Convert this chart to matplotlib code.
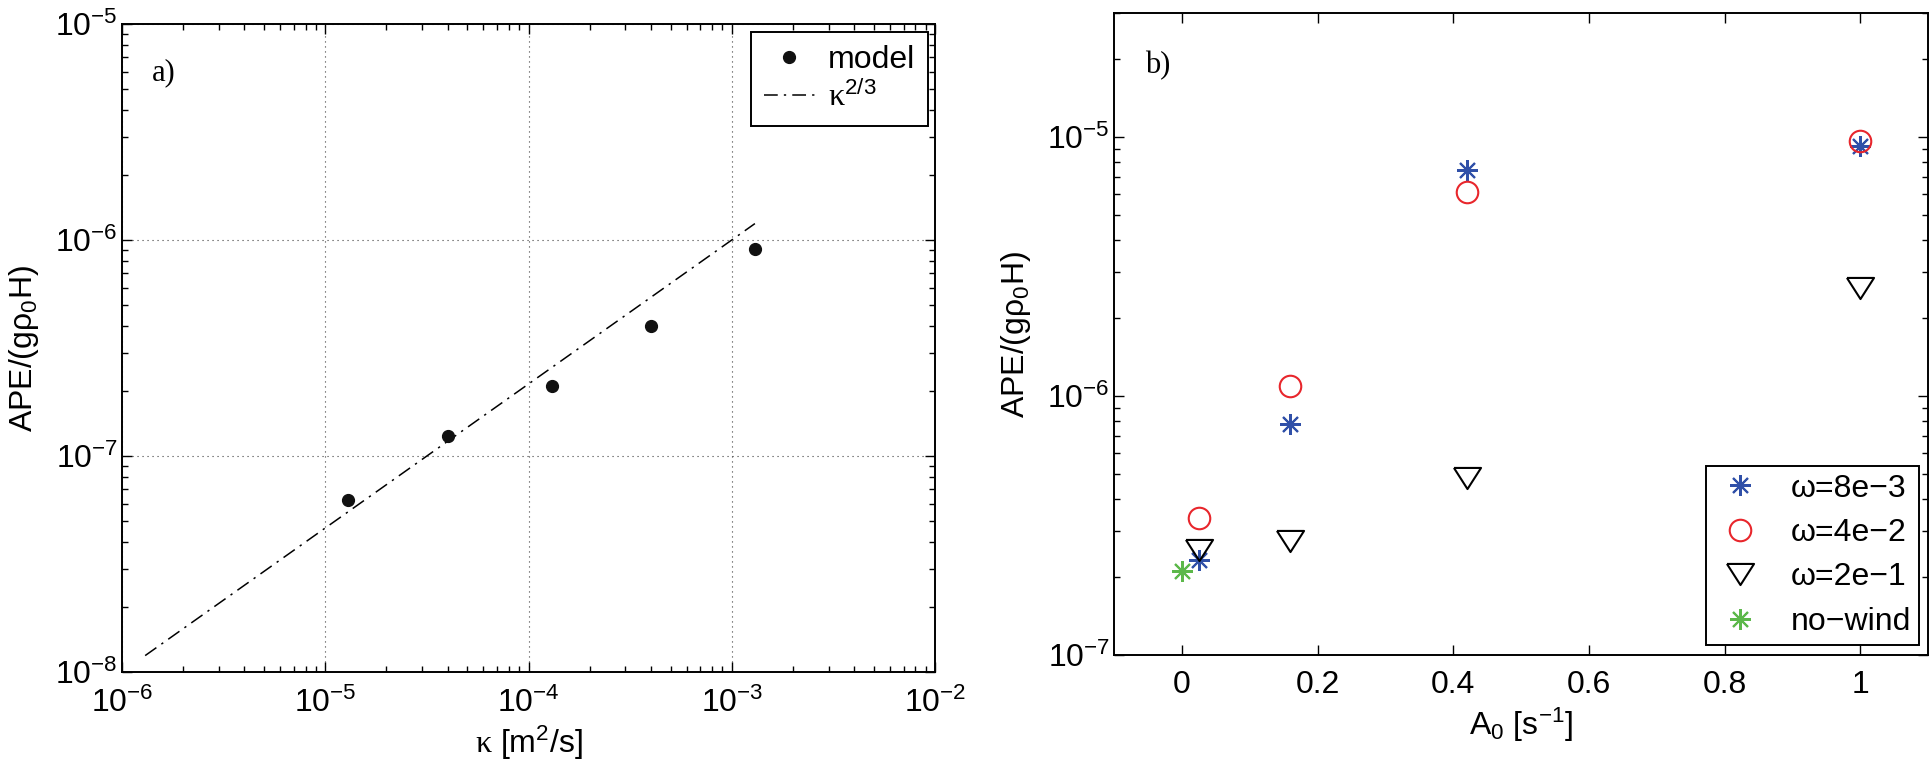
import matplotlib
matplotlib.use("Agg")
import matplotlib.pyplot as plt
import numpy as np
from matplotlib.ticker import LogLocator, NullFormatter, FixedLocator

plt.rcParams['font.family'] = ['Liberation Sans', 'DejaVu Sans']
plt.rcParams['mathtext.fontset'] = 'custom'
plt.rcParams['mathtext.rm'] = 'Liberation Serif'
plt.rcParams['mathtext.sf'] = 'Liberation Sans'
plt.rcParams['mathtext.it'] = 'Liberation Sans:italic'
plt.rcParams['mathtext.default'] = 'regular'

# ---------------- data ----------------
# panel a
kappa = [1.3e-5, 4.0e-5, 1.3e-4, 4.0e-4, 1.3e-3]
ape_model = [6.25e-8, 1.24e-7, 2.1e-7, 4.0e-7, 9.1e-7]
kappa_fit = [1.3e-6, 1.3e-3]
fit_coef = 1.0e-4  # APE ~ coef * kappa^(2/3)

# panel b
A0 = [0.025, 0.16, 0.42, 1.0]
ape_w8e3 = [2.32e-7, 7.8e-7, 7.45e-6, 9.2e-6]
ape_w4e2 = [3.38e-7, 1.096e-6, 6.1e-6, 9.6e-6]
ape_w2e1 = [2.55e-7, 2.75e-7, 4.8e-7, 2.6e-6]
A0_nowind = [0.0]
ape_nowind = [2.11e-7]
labels_b = ['ω=8e−3', 'ω=4e−2', 'ω=2e−1', 'no−wind']

# ---------------- figure ----------------
W, H = 1930, 762
fig = plt.figure(figsize=(W / 100, H / 100), dpi=100)

def frac(l, r, t, b):
    return [l / W, 1 - b / H, (r - l) / W, (b - t) / H]

axa = fig.add_axes(frac(122, 935, 24, 672))
axb = fig.add_axes(frac(1114, 1928, 13, 655))

TFS = 23
LFS = 23

def style(ax):
    for s in ax.spines.values():
        s.set_linewidth(1.4)
    ax.tick_params(which='both', direction='in', top=True, right=True,
                   labelsize=TFS, width=1.0)
    ax.tick_params(which='major', length=7)
    ax.tick_params(which='minor', length=4)
    ax.tick_params(axis='x', pad=11)
    ax.tick_params(axis='y', pad=3)

# ---- panel a ----
kf = np.array(kappa_fit)
axa.plot(kf, fit_coef * kf ** (2 / 3), color='black', lw=1.1,
         linestyle=(0, (9, 4, 1.5, 4)), label=r'$\mathrm{\kappa}^{\mathsf{2/3}}$')
axa.plot(kappa, ape_model, 'o', color='#111111', ms=8.5, label='model')
axa.set_xscale('log')
axa.set_yscale('log')
axa.set_xlim(1e-6, 1e-2)
axa.set_ylim(1e-8, 1e-5)
axa.xaxis.set_major_locator(LogLocator(base=10, numticks=10))
axa.yaxis.set_major_locator(LogLocator(base=10, numticks=10))
axa.xaxis.set_minor_locator(LogLocator(base=10, subs=np.arange(2, 10), numticks=20))
axa.yaxis.set_minor_locator(LogLocator(base=10, subs=np.arange(2, 10), numticks=20))
axa.xaxis.set_minor_formatter(NullFormatter())
axa.yaxis.set_minor_formatter(NullFormatter())
style(axa)
axa.grid(True, which='major', color='0.25', lw=0.8, linestyle=(0, (1, 3.5)))
axa.set_xlabel(r'$\mathrm{\kappa}$ [m$^2$/s]', fontsize=TFS, labelpad=4)
axa.set_ylabel(r'APE/(g$\mathsf{\rho}_0$H)', fontsize=TFS, labelpad=10)
axa.text(0.037, 0.925, 'a)', transform=axa.transAxes, fontsize=22,
         family='Liberation Serif', va='center', ha='left')
h, l = axa.get_legend_handles_labels()
lega = axa.legend(h[::-1], l[::-1], loc='upper right', bbox_to_anchor=(0.991, 0.987),
                  fontsize=LFS, frameon=True, fancybox=False, framealpha=1,
                  edgecolor='black', borderpad=0.4, labelspacing=0.18,
                  handlelength=1.6, handletextpad=0.4, borderaxespad=0)
lega.get_frame().set_linewidth(1.4)

# ---- panel b ----
tri = [(-1, 0.78), (1, 0.78), (0, -0.78), (-1, 0.78)]
axb.plot(A0, ape_w8e3, linestyle='none', marker=(8, 2, 0), ms=15, mew=1.5,
         color='#3050a8', label=labels_b[0])
axb.plot(A0, ape_w4e2, linestyle='none', marker='o', ms=15.5, mew=1.5,
         mfc='none', mec='#e8262c', label=labels_b[1])
axb.plot(A0, ape_w2e1, linestyle='none', marker=tri, ms=19.5, mew=1.5,
         mfc='none', mec='black', label=labels_b[2])
axb.plot(A0_nowind, ape_nowind, linestyle='none', marker=(8, 2, 0), ms=15, mew=1.5,
         color='#5cb84a', label=labels_b[3])
axb.set_yscale('log')
axb.set_xlim(-0.1, 1.1)
axb.set_ylim(1e-7, 3e-5)
axb.xaxis.set_major_locator(FixedLocator([0, 0.2, 0.4, 0.6, 0.8, 1.0]))
axb.set_xticklabels(['0', '0.2', '0.4', '0.6', '0.8', '1'])
axb.yaxis.set_major_locator(LogLocator(base=10, numticks=10))
axb.yaxis.set_minor_locator(LogLocator(base=10, subs=np.arange(2, 10), numticks=20))
axb.yaxis.set_minor_formatter(NullFormatter())
style(axb)
axb.set_xlabel(r'A$_0$ [s$^{-1}$]', fontsize=TFS, labelpad=4)
axb.set_ylabel(r'APE/(g$\mathsf{\rho}_0$H)', fontsize=TFS, labelpad=10)
axb.text(0.038, 0.918, 'b)', transform=axb.transAxes, fontsize=22,
         family='Liberation Serif', va='center', ha='left')
legb = axb.legend(loc='lower right', bbox_to_anchor=(0.989, 0.016),
                  fontsize=LFS, frameon=True, fancybox=False, framealpha=1,
                  edgecolor='black', borderpad=0.25, labelspacing=0.45,
                  handlelength=1.6, handletextpad=0.8, borderaxespad=0)
legb.get_frame().set_linewidth(1.4)

fig.savefig('out.png', dpi=100)
